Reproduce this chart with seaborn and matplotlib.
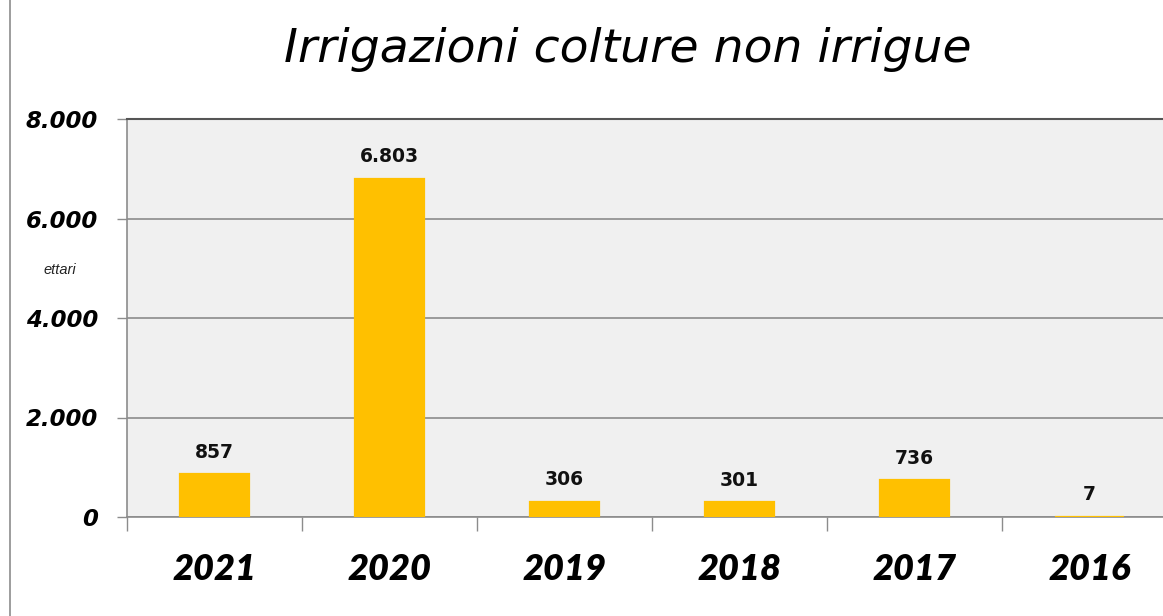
import numpy as np
import pandas as pd
import matplotlib
matplotlib.use("Agg")
import matplotlib.pyplot as plt
import seaborn as sns
from matplotlib.lines import Line2D

# dati
anni = ["2021", "2020", "2019", "2018", "2017", "2016"]
ettari = [857, 6803, 306, 301, 736, 7]
y_ticks = [0, 2000, 4000, 6000, 8000]

df = pd.DataFrame({"anno": anni, "ettari": ettari})


def punto_migliaia(v):
    return f"{v:,}".replace(",", ".")


sns.set_style("white")

fig = plt.figure(figsize=(11.63, 6.16), dpi=100)
ax = fig.add_axes([127 / 1163, 99 / 616, 1050 / 1163, 398 / 616])
ax.set_facecolor("#f0f0f0")

sns.barplot(data=df, x="anno", y="ettari", color="#ffc000", width=0.39,
            edgecolor="#ffc000", linewidth=1.6, saturation=1, ax=ax)
for p in ax.patches:
    p.set_zorder(3)

ax.set_ylim(0, 8000)
ax.set_xlim(-0.5, len(anni) - 0.5)
ax.set_yticks(y_ticks)
ax.set_yticklabels([punto_migliaia(t) for t in y_ticks],
                   fontsize=16.5, fontweight="bold", fontstyle="italic",
                   family="DejaVu Sans", color="black")
ax.yaxis.grid(True, color="#8c8c8c", linewidth=1.2)
ax.set_axisbelow(True)
ax.tick_params(axis="y", length=7, width=1, color="#8c8c8c", pad=14, left=True)

# etichette anni al centro, tacche tra le categorie
ax.set_xticks(range(len(anni)))
ax.set_xticklabels(anni, fontsize=26, fontweight="heavy", fontstyle="italic",
                   family="Lato", color="black")
ax.tick_params(axis="x", which="major", length=0, pad=26)
ax.set_xticks(np.arange(-0.5, len(anni), 1), minor=True)
ax.tick_params(axis="x", which="minor", length=10, width=1, color="#8c8c8c",
               bottom=True)

ax.set_xlabel("")
ax.set_ylabel("")

ax.spines["right"].set_visible(False)
ax.spines["left"].set_color("#8c8c8c")
ax.spines["left"].set_linewidth(1.2)
ax.spines["bottom"].set_color("#8c8c8c")
ax.spines["bottom"].set_linewidth(1.2)
ax.spines["top"].set_color("#555555")
ax.spines["top"].set_linewidth(1.5)

for i, v in enumerate(ettari):
    ax.annotate(punto_migliaia(v), (i, v), xytext=(0, 9),
                textcoords="offset points", ha="center", va="bottom",
                fontsize=13.5, fontweight="bold", family="DejaVu Sans",
                color="#111111")

fig.text(628 / 1163, 1 - 50 / 616, "Irrigazioni colture non irrigue",
         ha="center", va="center", fontsize=34, fontstyle="italic",
         family="DejaVu Sans", color="black")
fig.text(60 / 1163, 1 - 270 / 616, "ettari", ha="center", va="center",
         fontsize=10.5, fontstyle="italic", family="Liberation Sans",
         color="#222222")

fig.add_artist(Line2D([9.5 / 1163, 9.5 / 1163], [0, 1], color="#8c8c8c",
                      linewidth=1.2, transform=fig.transFigure))

fig.savefig("out.png", dpi=100)
